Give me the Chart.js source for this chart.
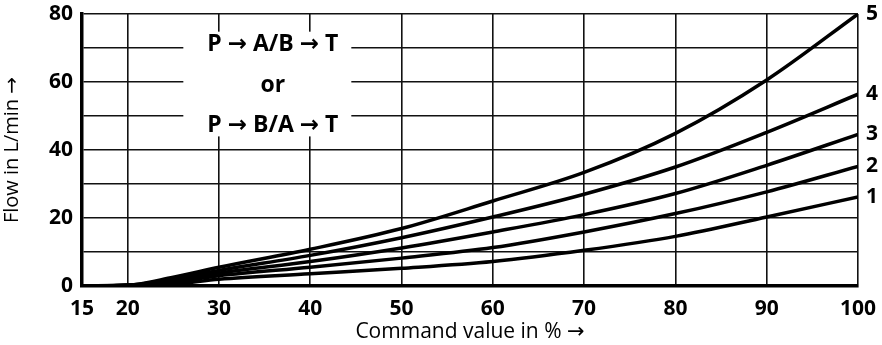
<!DOCTYPE html>
<html>
<head>
<meta charset="utf-8">
<script src="https://cdn.jsdelivr.net/npm/chart.js@4/dist/chart.umd.min.js"></script>
<style>
  html, body { margin: 0; padding: 0; background: #fff; }
  #wrap { width: 882px; height: 345px; }
</style>
</head>
<body>
<div id="wrap"><canvas id="c" width="882" height="345"></canvas></div>
<script>
const commandValue = [15, 20, 25, 30, 40, 50, 60, 70, 80, 90, 100];
const curve1 = [0, 0.2, 0.6, 2.0, 3.6, 5.2, 7.2, 10.5, 14.6, 20.3, 26.2];
const curve2 = [0, 0.2, 1.1, 3.0, 5.5, 8.2, 11.3, 15.9, 21.3, 27.7, 35.2];
const curve3 = [0, 0.2, 1.6, 3.8, 7.2, 11.2, 15.9, 21.0, 27.2, 35.5, 44.6];
const curve4 = [0, 0.2, 2.1, 4.6, 9.0, 14.2, 20.3, 27.0, 35.0, 45.2, 56.4];
const curve5 = [0, 0.2, 2.6, 5.5, 10.8, 16.9, 25.0, 33.4, 44.9, 60.6, 80.0];
const curveNames = ['1', '2', '3', '4', '5'];
const xTicks = [15, 20, 30, 40, 50, 60, 70, 80, 90, 100];
const boxLines = ['P \u2192 A/B \u2192 T', 'or', 'P \u2192 B/A \u2192 T'];

const FONT = '"Open Sans", "DejaVu Sans", sans-serif';
const INK = '#000';

const series = [curve1, curve2, curve3, curve4, curve5];

// white label box over the grid, then the curve numbers at the right end
const annotations = {
  id: 'annotations',
  beforeDatasetsDraw(chart) {
    const { ctx, scales: { x, y } } = chart;
    const x0 = x.getPixelForValue(26.1), x1 = x.getPixelForValue(44.5);
    const y0 = y.getPixelForValue(74.8), y1 = y.getPixelForValue(44.0);
    ctx.save();
    ctx.fillStyle = '#fff';
    ctx.fillRect(x0, y0, x1 - x0, y1 - y0);
    ctx.fillStyle = INK;
    ctx.font = 'bold 23px ' + FONT;
    ctx.textAlign = 'center';
    ctx.textBaseline = 'middle';
    const cx = x.getPixelForValue(35.9);
    [70.9, 59.1, 47.3].forEach((v, i) => ctx.fillText(boxLines[i], cx, y.getPixelForValue(v)));
    ctx.restore();
  },
  afterDatasetsDraw(chart) {
    const { ctx, scales: { x, y } } = chart;
    ctx.save();
    ctx.fillStyle = INK;
    ctx.font = 'bold 21px ' + FONT;
    ctx.textAlign = 'left';
    ctx.textBaseline = 'middle';
    series.forEach((s, i) => {
      const last = s.length - 1;
      ctx.fillText(curveNames[i], x.getPixelForValue(commandValue[last]) + 8, y.getPixelForValue(s[last]));
    });
    ctx.restore();
  },
};

new Chart(document.getElementById('c'), {
  type: 'line',
  data: {
    datasets: series.map((s, i) => ({
      label: curveNames[i],
      data: commandValue.map((v, j) => ({ x: v, y: s[j] })),
      borderColor: INK,
      borderWidth: 3.5,
      pointRadius: 0,
      fill: false,
      cubicInterpolationMode: 'monotone',
    })),
  },
  options: {
    responsive: false,
    animation: false,
    layout: { padding: { top: 14, right: 24, bottom: 0, left: 0 } },
    plugins: { legend: { display: false }, tooltip: { enabled: false } },
    scales: {
      x: {
        type: 'linear',
        min: 15, max: 100,
        afterBuildTicks: s => { s.ticks = xTicks.map(v => ({ value: v })); },
        afterFit: s => { s.height = 345 - 286; s.paddingLeft = 0; s.paddingRight = 0; },
        ticks: { color: INK, font: { family: FONT, size: 21, weight: 'bold' }, padding: 10, maxRotation: 0, autoSkip: false },
        grid: { color: '#111', lineWidth: 1.6, drawTicks: false },
        border: { color: INK, width: 3.5 },
        title: {
          display: true, text: 'Command value in % \u2192', color: INK,
          font: { family: FONT, size: 21 }, padding: { top: 0, bottom: 0 },
        },
      },
      y: {
        min: 0, max: 80,
        afterFit: s => { s.width = 82; s.paddingTop = 0; s.paddingBottom = 0; },
        ticks: {
          stepSize: 10, color: INK, padding: 9,
          font: { family: FONT, size: 21, weight: 'bold' },
          callback: v => (v % 20 === 0 ? v : ''),
        },
        grid: { color: '#111', lineWidth: 1.6, drawTicks: false },
        border: { color: INK, width: 3.5 },
        title: {
          display: true, text: 'Flow in L/min \u2192', color: INK,
          font: { family: FONT, size: 20 }, padding: { top: 0, bottom: 8 },
        },
      },
    },
  },
  plugins: [annotations],
});
</script>
</body>
</html>
